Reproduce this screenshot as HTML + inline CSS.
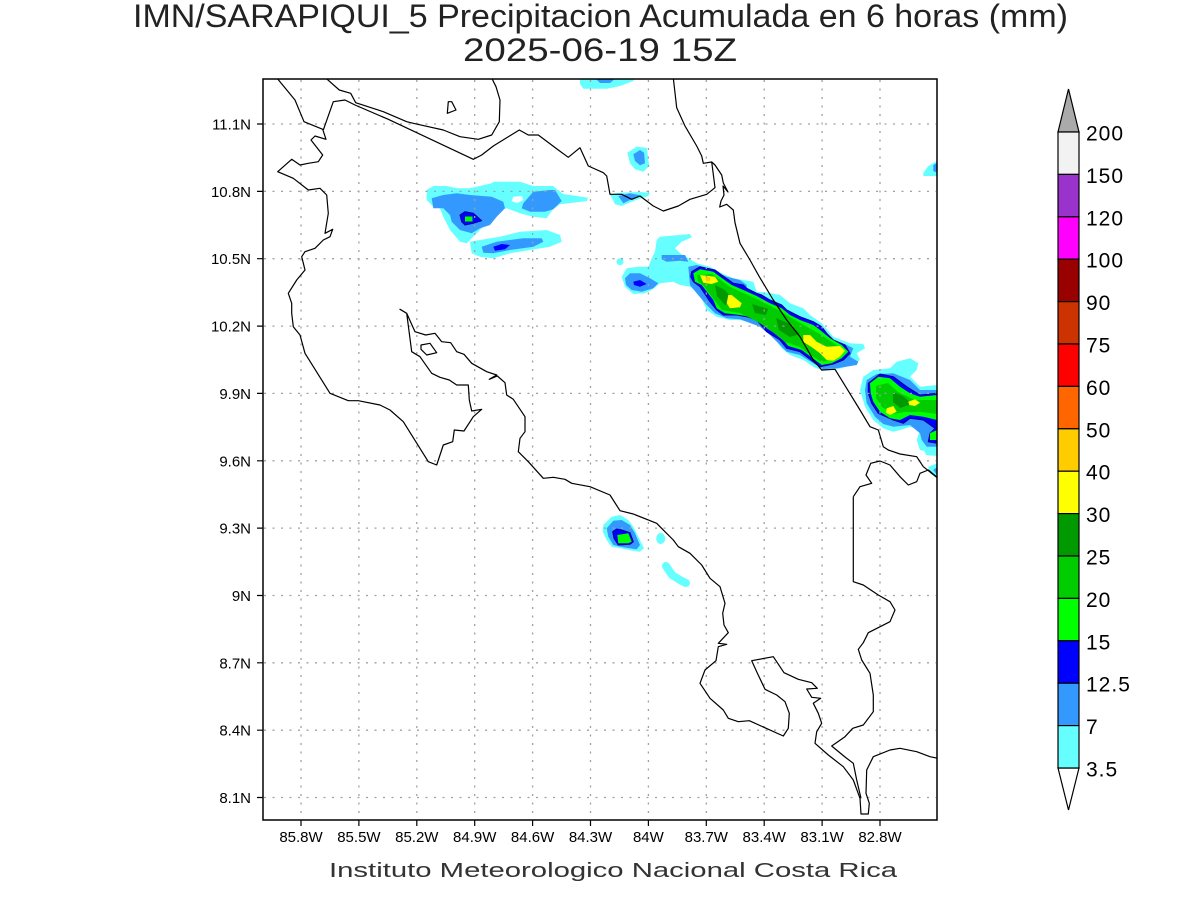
<!DOCTYPE html>
<html><head><meta charset="utf-8"><style>
html,body{margin:0;padding:0;background:#fff;}
svg{display:block;}
text{font-family:"Liberation Sans",sans-serif;fill:#000;}
.thin{font-family:"DejaVu Sans ExtraLight","Liberation Sans",sans-serif;}
</style></head><body>
<svg width="1200" height="900" viewBox="0 0 1200 900" xmlns="http://www.w3.org/2000/svg">
<rect width="1200" height="900" fill="#fff"/>
<defs><clipPath id="c"><rect x="263" y="79" width="674" height="741"/></clipPath></defs>

<!-- titles -->
<text class="thin" x="600.5" y="27" font-size="32" text-anchor="middle" textLength="935" lengthAdjust="spacingAndGlyphs" style="fill:#222">IMN/SARAPIQUI_5 Precipitacion Acumulada en 6 horas (mm)</text>
<text class="thin" x="600" y="61" font-size="32" text-anchor="middle" textLength="274" lengthAdjust="spacingAndGlyphs" style="fill:#222">2025-06-19 15Z</text>
<text class="thin" x="613" y="877" font-size="20" text-anchor="middle" textLength="568" lengthAdjust="spacingAndGlyphs" style="fill:#333">Instituto Meteorologico Nacional Costa Rica</text>

<g clip-path="url(#c)" stroke-linejoin="round">
<!-- NW blob -->
<polygon fill="#66ffff" points="426.7,190 433.3,186 446.7,186 456.7,188.3 470,188.3 491.7,183.3 493.3,181.7 520,181.7 533.3,186 553,186 563,194 588,197.7 587,201 560,204.3 553,209.3 546.7,218.3 533.3,216.7 520,213.3 506.7,208.3 500,210 490,220 480,230 470,240 466.7,243.3 460,241.7 450,230 443.3,216.7 440,208.3 433.3,206.7 426.7,200"/>
<polygon fill="#3399ff" points="431.7,198.3 443.3,195 456.7,193.3 470,195 491.7,196.7 503.3,201.7 505,208.3 496.7,216.7 490,225 480,228.3 471.7,233.3 460,230 451.7,221.7 450,215 443.3,208.3 433.3,208.3"/>
<polygon fill="#3399ff" points="523.3,203.3 533.3,191.7 550,190 555,190 561.7,201 553.3,209.3 545,211.7 530,211.7 521.7,208.3"/>
<polygon fill="#fff" points="513.3,196.7 521.7,196 523.3,200 516.7,203.3 511.7,201"/>
<polygon fill="#0000ff" stroke="#000099" stroke-width="1" points="460,215 465,211.7 473.3,213.3 481.7,220.7 473.3,223.3 465,225 461.7,221.7"/>
<rect x="465" y="216.5" width="7.5" height="5" fill="#00ff00"/>
<polygon fill="#66ffff" points="470,241.7 480,240 500,236.7 520,231.7 546.7,230 560,235 561.7,241.7 550,246.7 530,250 510,253.3 493.3,258.3 480,256.7 471.7,253.3"/>
<polygon fill="#3399ff" points="481.7,246.7 496.7,241.7 523.3,238.3 541.7,238.3 543.3,241.7 533.3,246.7 510,250 493.3,253.3 483.3,252.7"/>
<polygon fill="#0000ff" points="493.3,246.7 501.7,244 510,245 505,249.3 495,250.7"/>

<!-- top blobs -->
<polygon fill="#66ffff" points="580,78 634,78 633.3,81 620,86 606.7,88.7 583.3,88.7 580,84"/>
<polygon fill="#3399ff" points="595,78 616,78 610,83 600,83"/>
<polygon fill="#66ffff" points="627.3,152.7 636.7,146.7 646.7,147.7 649.3,166 643.3,171.7 635,169.3 630,163.3"/>
<polygon fill="#3399ff" points="633.3,154.3 640,150 644,152.7 645,163.3 640,165.3 635,161"/>
<polygon fill="#66ffff" points="610,194.3 620,192.7 640,192 650,192.7 648.3,196 633.3,201 621.7,206 615,204.3"/>
<polygon fill="#3399ff" points="618.3,196 630,193.3 640,195.3 631.7,199.3 623.3,203.3"/>
<polygon fill="#66ffff" points="923.3,172.7 928.3,166 937,161 937,176 923.3,176"/>
<polygon fill="#3399ff" points="933.3,165 937,163 937,172.7 933.3,171"/>

<!-- main band -->
<circle cx="620" cy="261.7" r="3.5" fill="#66ffff"/>
<polygon fill="#66ffff" points="656.7,240 660,236.7 690,234 691.7,237.3 681.7,241.7 675,248.3 680,253.3 688.3,258.3 696.7,263.3 710,266.7 721.7,273.3 733.3,278.3 753.3,281.7 756.7,291.7 768.3,292.7 780,295 790,303.3 803.3,308.3 810,315 821.7,323.3 833.3,336.7 850,343.3 863.3,344 865,348.3 856.7,353.3 860,360 853.3,365 836.7,369.3 823.3,370.7 813.3,366.7 803.3,360 790,355 781.7,348.3 773.3,336.7 763.3,326 753.3,323.3 740,320 730,320 716.7,316.7 706.7,310 700,295 690,286.7 680,285 673.3,281.7 660,283.3 651.7,290 645,293.3 633.3,294 625,286.7 621.7,276.7 626.7,268.3 638.3,266.7 648.3,266.7 651.7,258.3 655,251.7"/>
<polygon fill="#3399ff" points="661.7,255 685,255 688.3,261.7 680,260.7 666.7,261.7 661.7,259.3"/>
<polygon fill="#3399ff" points="625,278.3 630,273.3 640,273.3 650,278.3 658.3,283.3 653.3,288.3 641.7,291.7 631.7,290 626,285"/>
<polygon fill="#0000ff" points="633.3,281.7 640,280 646.7,284 640,286.7 634,285"/>
<polygon fill="#3399ff" points="688.3,266.7 696.7,265 710,269.3 726.7,276.7 740,280 746.7,285 746.7,290 760,294 770,300 780,306.7 786.7,313.3 796.7,316 806.7,320 820,326.7 833.3,340 846.7,345 853.3,348.3 850,356.7 858.3,361.7 856.7,365 836.7,368.3 823.3,369.3 813.3,363.3 800,355 786.7,351.7 778.3,343.3 770,335 760,326.7 740,319.3 726.7,318.3 715,313.3 706.7,305 696.7,293.3 690,285"/>
<polygon fill="#0000ff" stroke="#000099" stroke-width="1" points="691.7,271.7 700,266.7 715,270 721.7,275 733.3,283.3 743.3,285 746.7,288.3 756.7,293.3 761.7,295 770,300 781.7,305 786.7,310 800,316.7 813.3,321.7 821.7,326.7 826.7,333.3 833.3,340 845,345 850,353.3 843.3,360 833.3,364 820,366.7 813.3,361.7 800,351.7 786.7,348.3 780,340 766.7,331.7 756.7,320 746.7,316.7 736.7,315 723.3,315 716.7,310 710,301.7 700,286.7 693.3,281.7 690.7,276.7"/>
<polygon fill="#00ff00" points="693.3,273.3 700,269.3 713.3,271.7 720,276.7 731.7,285 743.3,290 756.7,296 770,303.3 781.7,308.3 790,315 800,320 813.3,325 820,330 830,338.3 841.7,345 848.3,351.7 841.7,358.3 831.7,363.3 821.7,365 815,360 801.7,350 788.3,346 780,336.7 766.7,328.3 756.7,318.3 740,315 725,313.3 716.7,308.3 713.3,300 701.7,285 695,281.7"/>
<polygon fill="#00cc00" points="697,275 712,274 730,287 756.7,299 780,311 800,323 818,333 835,344 843,351 835,358 822,362 812,356 800,347 785,342 770,330 758,322 740,313 722,310 716,302 704,286 698,281"/>
<polygon fill="#009900" points="715,285 725,290 733,300 725,305 717,296"/>
<polygon fill="#009900" points="752,304 768,309 766,315 755,313"/>
<polygon fill="#009900" points="776,318 790,324 800,334 790,337 779,330"/>
<polygon fill="#ffff00" points="700,275 715,276.7 718.3,281.7 711.7,284 703.3,282.7"/>
<circle cx="708" cy="279" r="2.5" fill="#ffcc00"/>
<polygon fill="#ffff00" points="728.3,295 731.7,295 741.7,303.3 740,307.3 730,308.3 726.7,303.3"/>
<polygon fill="#ffff00" points="803.3,335 810,335 816.7,341.7 826.7,346.7 840,346 845,350.7 840,356.7 833.3,360.7 826.7,360 820,353.3 813.3,348.3 803.3,341.7"/>

<!-- right blob -->
<polygon fill="#66ffff" points="863.3,376.7 873.3,370 890,368.3 896.7,361.7 910,358.3 918.3,363.3 916.7,370 910,376.7 920,386.7 937,385 937,453.3 928.3,451.7 920,450 916.7,440 920,430 910,426.7 900,430 893.3,431.7 883.3,428.3 873.3,420 865,406.7 860,390"/>
<polygon fill="#3399ff" points="866.7,380 876.7,374 893.3,373.3 910,380 920,390 937,390 937,446.7 926.7,446.7 921.7,440 920,433.3 910,425 893.3,426.7 883.3,424 875,416.7 866.7,403.3 865,390"/>
<polygon fill="#0000ff" stroke="#000099" stroke-width="1" points="868.3,383.3 880,374 893.3,376.7 906.7,386.7 920,395 937,393.3 937,443.3 928.3,441.7 930,433.3 935,428.3 923.3,420 910,418.3 903.3,423.3 893.3,420 878.3,413.3 871.7,403.3 868.3,393.3"/>
<polygon fill="#00ff00" points="870,383.3 878.3,376.7 890,378.3 900,386.7 910,393.3 920,396.7 937,395 937,440 930,440 930,433.3 937,430 937,420 923.3,416.7 910,415 900,420 890,418.3 880,411.7 873.3,401.7 870.7,393.3"/>
<polygon fill="#00cc00" points="876,386 888,383 898,392 915,400 937,400 937,414 922,412 905,412 893,414 882,407 876,398"/>
<polygon fill="#009900" points="893,392 903,396 912,404 900,408 893,402"/>
<polygon fill="#ffff00" points="886.7,408.3 893.3,406 896.7,411.7 890,415 886,412.7"/>
<polygon fill="#ffff00" points="908.3,401.7 915,399.3 920,402.7 915,406 909.3,405"/>
<polygon fill="#66ffff" points="928.3,466.7 937,463.3 937,478.3 930,473.3"/>
<polygon fill="#3399ff" points="933.3,470 937,467 937,475"/>
<polygon fill="#66ffff" points="924,450 937,449 937,456 926,455"/>

<!-- Pacific blob -->
<polygon fill="#66ffff" points="603.3,525 611.7,516.7 620,515 628.3,520 633.3,526.7 640,540 644,548.3 640,551.7 633.3,550.7 620,548.3 611.7,546.7 606.7,540 602.7,531.7"/>
<polygon fill="#3399ff" points="606.7,528.3 613.3,520.7 621.7,520 630,525 635,533.3 640,545 636.7,549.3 623.3,547.3 613.3,545 608.3,536.7"/>
<polygon fill="#0000ff" stroke="#000099" stroke-width="1" points="612.7,531.7 616.7,529 621.7,530 630,532.7 633.3,541.7 630,544.3 618.3,545 614,538.3"/>
<polygon fill="#00ff00" points="617.3,535 628.3,533.3 631.7,541.7 628.3,543.3 618.3,543.3"/>
<ellipse cx="660.7" cy="538.5" rx="4.5" ry="5.5" fill="#66ffff"/>
<polyline points="666,566 672,575 680,580 686,583" fill="none" stroke="#66ffff" stroke-width="8" stroke-linecap="round"/>
</g>

<!-- grid -->
<g stroke="#a0a0a0" stroke-width="1.3" stroke-dasharray="2,6.5" fill="none">
<path d="M301,80V819M358.9,80V819M416.8,80V819M474.7,80V819M532.6,80V819M590.5,80V819M648.4,80V819M706.3,80V819M764.2,80V819M822.1,80V819M880,80V819"/>
<path d="M264,124H936M264,191.4H936M264,258.7H936M264,326.1H936M264,393.4H936M264,460.8H936M264,528.1H936M264,595.5H936M264,662.8H936M264,730.2H936M264,797.5H936"/>
</g>

<!-- coastlines -->
<g clip-path="url(#c)" fill="none" stroke="#000" stroke-width="1.2" stroke-linejoin="round">
<polyline points="277.7,79 295,100 304,121.7 322.7,129.3 326,139.3 315,136 311,140 322.7,155 318.3,161.7 308.3,163.3 300,165 291.7,159.3 277.7,171.7 293.3,178.3 308.3,190 320,188.3 326.7,195 328.3,213.3 325,233.3 332.7,229.3 330,236.7 323.3,240 315,248.3 305,251.7 301.7,256.7 305,270 296.7,280 288.3,293.3 291.7,303.3 291.7,313.3 293.3,326.7 300,335 305,353.3 330,393.3 348.3,400.7 358.3,400.7 380,405 390,410 403.3,421.7 428.3,461.7 436.7,465 443.3,445 452.7,441.7 454.3,430 464,431 473.3,416.7 481.7,409.3 471.7,411 469.3,400 468.3,385 456.7,385 449.3,380 440,377.3 431.7,373.3 420,356.7 411.7,351.7 406.7,313.3 400,309.3 406.7,313.3 415,331.7 425.7,335 435,333.3 441.7,341.7 450.7,342.7 456.7,351.7 464,354.3 471.7,363.3 486.7,371.7 496.7,375 489.3,379.3 497.3,376 505,382.7 506.7,395 513.3,399.3 525,416.7 525,431.7 520,438.3 518.3,451.7 528.3,461.7 543.3,478.3 553.3,477.3 565,479.3 571.7,483.3 590,486.7 610,495 620,510.7 633.3,514 656.7,523.3 660,526.7 673.3,540 678.3,546.7 690,553.3 701.7,565 710,578.3 720,586.7 725,603.3 722.7,613.3 724,625 728.3,632.7 718.3,643.3 726.7,644.3 718.3,646.7 716,660.7 705,670 700,683.3 710,698.3 723.3,710 728.3,718.3 738.3,721.7 749.3,720.7 783.3,736 788.3,728.3 789.3,713.3 785,701.7 776.7,695 765,689.3 756.7,671.7 751.7,660.7 773.3,656.7 784,672.7 798.3,679.3 811.7,682.7 817.3,688.3 806.7,689 811.7,697.3 820.7,698.3 813.3,703.3 818.3,713.3 821.7,723.3 816.7,731.7 815,743.3 828.3,755 843.3,766.7 853.3,780 860,798.3 861,814 868.3,814 869.3,803.3 866,793.3 866.7,770 873.3,756.7 890,750 900,748.3 916.7,751.7 930,756.7 938,758.3"/>
<polygon points="421,345 430,343.3 436.7,352.7 426.7,355 421,349.3"/>
<polyline points="853.3,496.7 853.3,581.7 863.3,585 878.3,595 890,601.7 895,610 890,621.7 868.3,632.7 863.3,642.7 858.3,649.3 861.7,660 870,673.3 873.3,695 873.3,711.7 863.3,725 852.7,728.3 845,736.7 831.7,746 845,757 853.3,763.3 856.7,780 861,798.3"/>
<polyline points="853.3,496.7 860,486.7 871.7,483.3 866,475 870.7,463.3 880,461 890,465 900,476.7 908.3,485 916.7,481.7 920,473.3 928.3,470 938,478"/>
<polyline points="673.3,78 676.7,107.7 685,126 696.7,146 701.7,156 703.3,163.3 711.7,162 715,165 721.7,175 723.3,183 728,192 723,186 724,195 721,201 719.7,207 726.7,204.3 733.3,210 735,222.7 740,243.3 750,260 759.3,276.7 763.3,283.3 773.3,300 786.7,320 800,336.7 813.3,360 821.7,370 835,369.3 846.7,388.3 860,410 870,426.7 878.3,430 883.3,446.7 888.3,450 900,454 916.7,456.7 923.3,466.7 938,478.3"/>
<polyline points="323.3,130 333.3,101.7 345,100 355,105 388.3,119.3 473.3,159.3 481.7,155 493.3,146 519.3,130 528.3,135 538.3,135 558.3,150 568.3,157.3 580,147.7 588.3,166 603.3,172.7 606.7,176 610,194.3 621.7,194.3 631.7,199.3 640,196 653.3,206 663.3,211 678.3,206 690,199.3 706.7,194.3 715,187.7 713.3,174.3 711.7,162"/>
<polyline points="325.7,78 339.3,90 350.7,93.3 355.7,102.7 383.3,111.7 406.7,121.7 413.3,123.3 443.3,130 460,136.7 478.3,139.3 491.7,135 499.3,121.7 500,100 496,86.7 491.7,78"/>
<polygon points="448.3,101.7 451.7,101.7 456,110 447.3,113.3"/>
</g>

<!-- frame -->
<rect x="263" y="79" width="674" height="741" fill="none" stroke="#000" stroke-width="1.5"/>
<!-- ticks -->
<g stroke="#000" stroke-width="1.2">
<path d="M257,124H263M257,191.4H263M257,258.7H263M257,326.1H263M257,393.4H263M257,460.8H263M257,528.1H263M257,595.5H263M257,662.8H263M257,730.2H263M257,797.5H263"/>
<path d="M301,820V826M358.9,820V826M416.8,820V826M474.7,820V826M532.6,820V826M590.5,820V826M648.4,820V826M706.3,820V826M764.2,820V826M822.1,820V826M880,820V826"/>
</g>
<g font-size="15" text-anchor="end">
<text x="251" y="129.5">11.1N</text>
<text x="251" y="196.9">10.8N</text>
<text x="251" y="264.2">10.5N</text>
<text x="251" y="331.6">10.2N</text>
<text x="251" y="398.9">9.9N</text>
<text x="251" y="466.3">9.6N</text>
<text x="251" y="533.6">9.3N</text>
<text x="251" y="601">9N</text>
<text x="251" y="668.3">8.7N</text>
<text x="251" y="735.7">8.4N</text>
<text x="251" y="803">8.1N</text>
</g>
<g font-size="15" text-anchor="middle">
<text x="301" y="842">85.8W</text>
<text x="358.9" y="842">85.5W</text>
<text x="416.8" y="842">85.2W</text>
<text x="474.7" y="842">84.9W</text>
<text x="532.6" y="842">84.6W</text>
<text x="590.5" y="842">84.3W</text>
<text x="648.4" y="842">84W</text>
<text x="706.3" y="842">83.7W</text>
<text x="764.2" y="842">83.4W</text>
<text x="822.1" y="842">83.1W</text>
<text x="880" y="842">82.8W</text>
</g>

<!-- colorbar -->
<g stroke="#000" stroke-width="1.2">
<polygon points="1058,132 1068.5,89 1079,132" fill="#aaaaaa"/>
<polygon points="1058,768 1068.5,810 1079,768" fill="#ffffff"/>
<rect x="1058" y="132" width="21" height="42.4" fill="#f2f2f2"/>
<rect x="1058" y="174.4" width="21" height="42.4" fill="#9933cc"/>
<rect x="1058" y="216.8" width="21" height="42.4" fill="#ff00ff"/>
<rect x="1058" y="259.2" width="21" height="42.4" fill="#990000"/>
<rect x="1058" y="301.6" width="21" height="42.4" fill="#cc3300"/>
<rect x="1058" y="344" width="21" height="42.4" fill="#ff0000"/>
<rect x="1058" y="386.4" width="21" height="42.4" fill="#ff6600"/>
<rect x="1058" y="428.8" width="21" height="42.4" fill="#ffcc00"/>
<rect x="1058" y="471.2" width="21" height="42.4" fill="#ffff00"/>
<rect x="1058" y="513.6" width="21" height="42.4" fill="#009900"/>
<rect x="1058" y="556" width="21" height="42.4" fill="#00cc00"/>
<rect x="1058" y="598.4" width="21" height="42.4" fill="#00ff00"/>
<rect x="1058" y="640.8" width="21" height="42.4" fill="#0000ff"/>
<rect x="1058" y="683.2" width="21" height="42.4" fill="#3399ff"/>
<rect x="1058" y="725.6" width="21" height="42.4" fill="#66ffff"/>
</g>
<g font-size="21" letter-spacing="1">
<text x="1086" y="140.5">200</text>
<text x="1086" y="182.9">150</text>
<text x="1086" y="225.3">120</text>
<text x="1086" y="267.7">100</text>
<text x="1086" y="310.1">90</text>
<text x="1086" y="352.5">75</text>
<text x="1086" y="394.9">60</text>
<text x="1086" y="437.3">50</text>
<text x="1086" y="479.7">40</text>
<text x="1086" y="522.1">30</text>
<text x="1086" y="564.5">25</text>
<text x="1086" y="606.9">20</text>
<text x="1086" y="649.3">15</text>
<text x="1086" y="691.7">12.5</text>
<text x="1086" y="734.1">7</text>
<text x="1086" y="776.5">3.5</text>
</g>
</svg>
</body></html>
